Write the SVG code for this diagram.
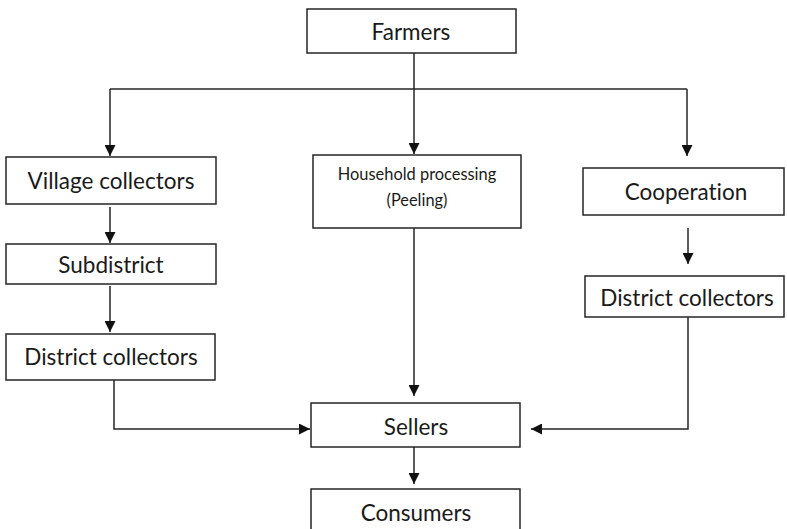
<svg xmlns="http://www.w3.org/2000/svg" width="787" height="529" viewBox="0 0 787 529">
  <style>
    .box { fill: #ffffff; stroke: #262626; stroke-width: 1.5; }
    .lbl { font-family: Lato, "Open Sans", sans-serif; font-size: 22.5px; fill: #1a1a1a; text-anchor: middle; font-variant-ligatures: none; }
    .small { font-size: 16.4px; }
    .conn { fill: none; stroke: #262626; stroke-width: 1.5; }
  </style>
  <defs>
    <marker id="arrow" viewBox="0 0 10 10" refX="10" refY="5" markerWidth="11" markerHeight="11" markerUnits="userSpaceOnUse" orient="auto">
      <path d="M0,0 L10,5 L0,10 Z" fill="#111111"/>
    </marker>
  </defs>

  <rect width="787" height="529" fill="#ffffff"/>

  <!-- connectors -->
  <g id="connectors">
    <line class="conn" x1="414" y1="53" x2="414" y2="89"/>
    <line class="conn" x1="110" y1="89" x2="687" y2="89"/>
    <line class="conn" x1="110" y1="89" x2="110" y2="156" marker-end="url(#arrow)"/>
    <line class="conn" x1="414" y1="89" x2="414" y2="154" marker-end="url(#arrow)"/>
    <line class="conn" x1="687" y1="89" x2="687" y2="156" marker-end="url(#arrow)"/>
    <line class="conn" x1="110" y1="207" x2="110" y2="243" marker-end="url(#arrow)"/>
    <line class="conn" x1="110" y1="286" x2="110" y2="332" marker-end="url(#arrow)"/>
    <line class="conn" x1="688" y1="228" x2="688" y2="264" marker-end="url(#arrow)"/>
    <line class="conn" x1="414" y1="228" x2="414" y2="396" marker-end="url(#arrow)"/>
    <polyline class="conn" points="114,380 114,429 310,429" marker-end="url(#arrow)"/>
    <polyline class="conn" points="688,317 688,429 531,429" marker-end="url(#arrow)"/>
    <line class="conn" x1="414" y1="447" x2="414" y2="484" marker-end="url(#arrow)"/>
  </g>

  <g id="farmers">
    <rect class="box" x="307" y="9" width="209" height="44"/>
    <text class="lbl" x="411" y="40">Farmers</text>
  </g>

  <g id="village-collectors">
    <rect class="box" x="6" y="157" width="210" height="47"/>
    <text class="lbl" x="111" y="189">Village collectors</text>
  </g>

  <g id="household-processing">
    <rect class="box" x="313" y="155" width="208" height="73"/>
    <text class="lbl small" x="417" y="180">Household processing</text>
    <text class="lbl small" x="417" y="206">(Peeling)</text>
  </g>

  <g id="cooperation">
    <rect class="box" x="583" y="168" width="201" height="47"/>
    <text class="lbl" x="686" y="200">Cooperation</text>
  </g>

  <g id="subdistrict">
    <rect class="box" x="6" y="244" width="210" height="40"/>
    <text class="lbl" x="111" y="273">Subdistrict</text>
  </g>

  <g id="district-collectors-right">
    <rect class="box" x="585" y="276" width="199" height="41"/>
    <text class="lbl" x="687" y="306">District collectors</text>
  </g>

  <g id="district-collectors-left">
    <rect class="box" x="6" y="334" width="209" height="46"/>
    <text class="lbl" x="111" y="365">District collectors</text>
  </g>

  <g id="sellers">
    <rect class="box" x="311" y="403" width="209" height="44"/>
    <text class="lbl" x="416" y="435">Sellers</text>
  </g>

  <g id="consumers">
    <rect class="box" x="311" y="489" width="209" height="46"/>
    <text class="lbl" x="416" y="521">Consumers</text>
  </g>
</svg>
